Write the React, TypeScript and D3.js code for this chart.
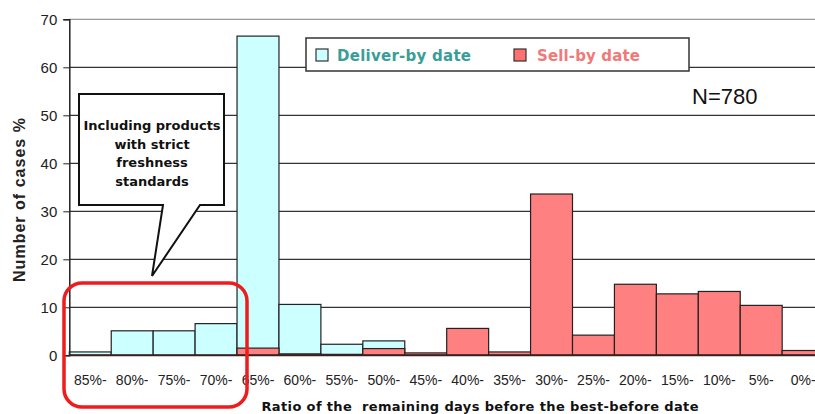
import React, { useEffect, useRef } from 'react';
import * as d3 from 'd3';

// categories (share of remaining days before best-before date)
const categories = ['85%', '80%', '75%', '70%', '65%', '60%', '55%', '50%', '45%', '40%', '35%', '30%', '25%', '20%', '15%', '10%', '5%', '0%'];
// percent of cases
const deliverBy = [0.7, 5.1, 5.1, 6.6, 66.5, 10.6, 2.3, 3.0, 0, 0, 0, 0, 0, 0, 0, 0, 0, 0];
const sellBy = [0, 0, 0, 0, 1.5, 0.3, 0.2, 1.4, 0.5, 5.6, 0.7, 33.6, 4.2, 14.8, 12.8, 13.3, 10.4, 1.0];
const yTicks = [0, 10, 20, 30, 40, 50, 60, 70];
const calloutLines = ['Including products', 'with strict', 'freshness', 'standards'];

const App = () => {
  const svgRef = useRef<SVGSVGElement>(null);

  useEffect(() => {
    const svg = d3.select(svgRef.current);
    svg.selectAll('*').remove();

    const left = 69.3;
    const x = d3.scaleBand().domain(categories).range([left, 824.1]).padding(0);
    const y = d3.scaleLinear().domain([0, 70]).range([355.3, 19.3]);

    // gridlines
    svg.append('g')
      .selectAll('line')
      .data(yTicks.filter(t => t > 0))
      .enter()
      .append('line')
      .attr('x1', left)
      .attr('x2', 815)
      .attr('y1', d => y(d))
      .attr('y2', d => y(d))
      .attr('stroke', d => (d === 70 ? '#999' : '#333'))
      .attr('stroke-width', 1.2);

    // deliver-by bars
    svg.append('g')
      .selectAll('rect')
      .data(categories.map((c, i) => ({ c, v: deliverBy[i] })).filter(d => d.v > 0))
      .enter()
      .append('rect')
      .attr('x', d => x(d.c)!)
      .attr('y', d => y(d.v))
      .attr('width', x.bandwidth())
      .attr('height', d => y(0) - y(d.v))
      .attr('fill', '#ccffff')
      .attr('stroke', '#222')
      .attr('stroke-width', 1.2);

    // sell-by bars
    svg.append('g')
      .selectAll('rect')
      .data(categories.map((c, i) => ({ c, v: sellBy[i] })).filter(d => d.v > 0))
      .enter()
      .append('rect')
      .attr('x', d => x(d.c)!)
      .attr('y', d => y(d.v))
      .attr('width', x.bandwidth())
      .attr('height', d => y(0) - y(d.v))
      .attr('fill', '#ff8080')
      .attr('stroke', '#222')
      .attr('stroke-width', 1.2);

    // y axis
    const yAxis = svg.append('g')
      .attr('transform', `translate(${left},0)`)
      .call(d3.axisLeft(y).tickValues(yTicks).tickSize(6).tickPadding(6));
    yAxis.select('.domain').attr('stroke', '#222').attr('stroke-width', 1.5);
    yAxis.selectAll('line').attr('stroke', '#222');
    yAxis.selectAll('text')
      .attr('font-family', 'Liberation Sans, Arial, sans-serif')
      .attr('font-size', 15)
      .attr('fill', '#222');

    // baseline
    svg.append('line')
      .attr('x1', left).attr('x2', 815)
      .attr('y1', y(0)).attr('y2', y(0))
      .attr('stroke', '#3a2020').attr('stroke-width', 2);

    // x labels
    svg.append('g')
      .selectAll('text')
      .data(categories)
      .enter()
      .append('text')
      .attr('x', d => x(d)! + x.bandwidth() / 2)
      .attr('y', 385)
      .attr('text-anchor', 'middle')
      .attr('font-family', 'Liberation Sans, Arial, sans-serif')
      .attr('font-size', 14)
      .attr('fill', '#222')
      .text(d => `${d}-`);

    // axis titles
    svg.append('text')
      .attr('x', 480)
      .attr('y', 411)
      .attr('text-anchor', 'middle')
      .attr('font-family', 'DejaVu Sans, sans-serif')
      .attr('font-weight', 'bold')
      .attr('font-size', 13)
      .attr('fill', '#111')
      .text('Ratio of the  remaining days before the best-before date')
      .attr('textLength', 437)
      .attr('xml:space', 'preserve');

    svg.append('text')
      .attr('transform', 'translate(25,200) rotate(-90)')
      .attr('text-anchor', 'middle')
      .attr('font-family', 'Liberation Sans, Arial, sans-serif')
      .attr('font-weight', 'bold')
      .attr('font-size', 16)
      .attr('fill', '#222')
      .attr('textLength', 164)
      .text('Number of cases %');

    // legend
    const lg = svg.append('g');
    lg.append('rect')
      .attr('x', 306).attr('y', 38).attr('width', 383).attr('height', 33)
      .attr('fill', '#fff').attr('stroke', '#333').attr('stroke-width', 1.5);
    lg.append('rect')
      .attr('x', 316).attr('y', 49).attr('width', 12).attr('height', 12)
      .attr('fill', '#ccffff').attr('stroke', '#333').attr('stroke-width', 1.2);
    lg.append('text')
      .attr('x', 337).attr('y', 61)
      .attr('font-family', 'DejaVu Sans, sans-serif').attr('font-weight', 'bold').attr('font-size', 15)
      .attr('fill', '#3a9e98')
      .attr('textLength', 134)
      .text('Deliver-by date');
    lg.append('rect')
      .attr('x', 514).attr('y', 49).attr('width', 12).attr('height', 12)
      .attr('fill', '#ff7070').attr('stroke', '#333').attr('stroke-width', 1.2);
    lg.append('text')
      .attr('x', 537).attr('y', 61)
      .attr('font-family', 'DejaVu Sans, sans-serif').attr('font-weight', 'bold').attr('font-size', 15)
      .attr('fill', '#f07a7a')
      .attr('textLength', 103)
      .text('Sell-by date');

    svg.append('text')
      .attr('x', 692).attr('y', 104)
      .attr('font-family', 'Liberation Sans, Arial, sans-serif')
      .attr('font-size', 22)
      .attr('fill', '#111')
      .text('N=780');

    // callout
    const cx0 = 79, cx1 = 224, cy0 = 94, cy1 = 205;
    const callout = d3.path();
    callout.moveTo(cx0, cy0);
    callout.lineTo(cx1, cy0);
    callout.lineTo(cx1, cy1);
    callout.lineTo(200, cy1);
    callout.lineTo(152, 276);
    callout.lineTo(163, cy1);
    callout.lineTo(cx0, cy1);
    callout.closePath();
    svg.append('path')
      .attr('d', callout.toString())
      .attr('fill', '#fff')
      .attr('stroke', '#111')
      .attr('stroke-width', 2)
      .attr('stroke-linejoin', 'miter');
    svg.append('g')
      .selectAll('text')
      .data(calloutLines)
      .enter()
      .append('text')
      .attr('x', 152)
      .attr('y', (d, i) => 130 + i * 18.5)
      .attr('text-anchor', 'middle')
      .attr('font-family', 'DejaVu Sans, sans-serif')
      .attr('font-weight', 'bold')
      .attr('font-size', 13)
      .attr('fill', '#111')
      .text(d => d);

    // red highlight box
    svg.append('rect')
      .attr('x', 64).attr('y', 283).attr('width', 183).attr('height', 124)
      .attr('rx', 18).attr('ry', 18)
      .attr('fill', 'none')
      .attr('stroke', '#ee1c1c')
      .attr('stroke-width', 3.5);
  }, []);

  return (
    <svg ref={svgRef} width={815} height={414} style={{ position: 'absolute', left: 0, top: 0, background: '#fff' }}></svg>
  );
};

export default App;
